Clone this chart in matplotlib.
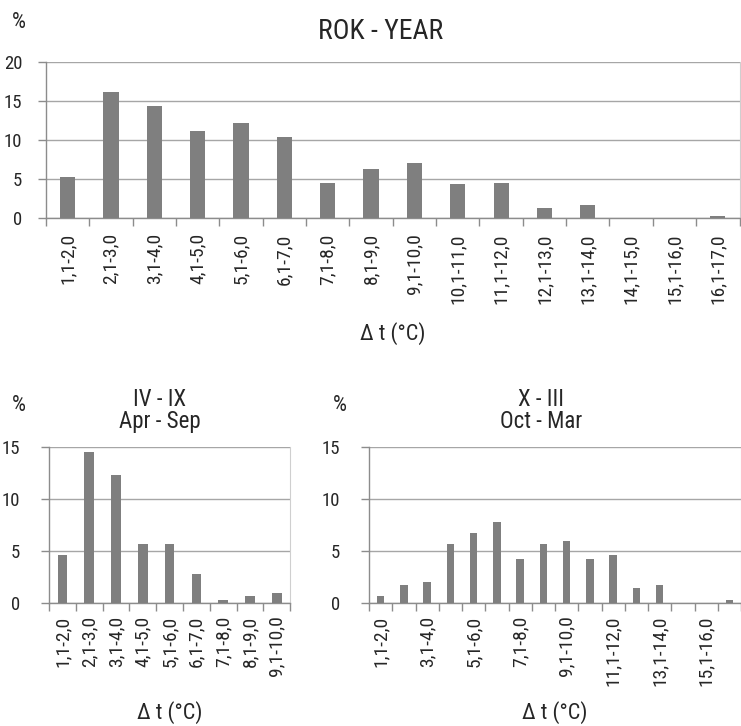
import matplotlib
matplotlib.use("Agg")
import matplotlib.pyplot as plt
import numpy as np

plt.rcParams["font.family"] = ["Roboto Condensed", "Liberation Sans", "DejaVu Sans"]

# data
year_labels = ["1,1-2,0", "2,1-3,0", "3,1-4,0", "4,1-5,0", "5,1-6,0", "6,1-7,0",
               "7,1-8,0", "8,1-9,0", "9,1-10,0", "10,1-11,0", "11,1-12,0",
               "12,1-13,0", "13,1-14,0", "14,1-15,0", "15,1-16,0", "16,1-17,0"]
year_values = [5.2, 16.1, 14.3, 11.2, 12.2, 10.4, 4.5, 6.3, 7.0, 4.3, 4.5,
               1.3, 1.7, 0.0, 0.0, 0.3]

summer_labels = ["1,1-2,0", "2,1-3,0", "3,1-4,0", "4,1-5,0", "5,1-6,0",
                 "6,1-7,0", "7,1-8,0", "8,1-9,0", "9,1-10,0"]
summer_values = [4.6, 14.5, 12.3, 5.7, 5.7, 2.8, 0.3, 0.7, 1.0]

winter_labels = ["1,1-2,0", "", "3,1-4,0", "", "5,1-6,0", "", "7,1-8,0", "",
                 "9,1-10,0", "", "11,1-12,0", "", "13,1-14,0", "", "15,1-16,0", ""]
winter_values = [0.7, 1.7, 2.0, 5.7, 6.7, 7.8, 4.2, 5.7, 6.0, 4.2, 4.6,
                 1.4, 1.7, 0.0, 0.0, 0.3]

BAR = "#7f7f7f"
GRID = "#a6a6a6"
AXIS = "#8c8c8c"
TXT = "#262626"


def draw(ax, labels, values, ymax, bar_w, xpad, ypad):
    n = len(values)
    x = np.arange(n)
    ax.bar(x, values, width=bar_w, color=BAR, zorder=3)
    ax.set_xlim(-0.5, n - 0.5)
    ax.set_ylim(0, ymax)
    ax.set_yticks(np.arange(0, ymax + 1, 5))
    ax.yaxis.grid(True, color=GRID, lw=1.0, zorder=0)
    ax.set_axisbelow(True)
    ax.set_xticks(x)
    ax.set_xticklabels(labels, rotation=90, fontsize=14, color=TXT)
    ax.set_xticks(np.arange(-0.5, n, 1.0), minor=True)
    ax.tick_params(axis="x", which="major", length=0, pad=xpad)
    ax.tick_params(axis="x", which="minor", length=6, color=AXIS, width=1)
    ax.tick_params(axis="y", length=6, color=AXIS, width=1, labelsize=13.5,
                   labelcolor=TXT, pad=ypad)
    for s in ["left", "bottom"]:
        ax.spines[s].set_color(AXIS)
        ax.spines[s].set_linewidth(1.0)
    ax.spines["top"].set_visible(False)
    ax.spines["right"].set_color("#cfcfcf")


def xlabel(ax, y):
    ax.set_xlabel("\u0394 t (\u00b0C)", fontsize=16, color=TXT)
    ax.xaxis.set_label_coords(0.5, y)
    ax.xaxis.label.set_va("center")


fig = plt.figure(figsize=(7.41, 7.26), dpi=100)

ax1 = fig.add_axes([0.062, 0.6997, 0.936, 0.2149])
draw(ax1, year_labels, year_values, 20, 0.35, 11, 11)
xlabel(ax1, -0.743)
fig.text(0.513, 0.957, "ROK - YEAR", fontsize=20, ha="center", va="center", color=TXT)
fig.text(0.026, 0.969, "%", fontsize=16, color=TXT, ha="center", va="center")

ax2 = fig.add_axes([0.0662, 0.1694, 0.3255, 0.2149])
draw(ax2, summer_labels, summer_values, 15, 0.36, 9, 15)
xlabel(ax2, -0.70)
fig.text(0.216, 0.434, "IV - IX\nApr - Sep", fontsize=16.5, ha="center",
         va="center", color=TXT, linespacing=0.95)
fig.text(0.026, 0.442, "%", fontsize=16, color=TXT, ha="center", va="center")

ax3 = fig.add_axes([0.498, 0.1694, 0.502, 0.2149])
draw(ax3, winter_labels, winter_values, 15, 0.33, 9, 15)
xlabel(ax3, -0.70)
fig.text(0.730, 0.434, "X - III\nOct - Mar", fontsize=16.5, ha="center",
         va="center", color=TXT, linespacing=0.95)
fig.text(0.458, 0.442, "%", fontsize=16, color=TXT, ha="center", va="center")

fig.savefig("out.png", dpi=100, facecolor="white")
